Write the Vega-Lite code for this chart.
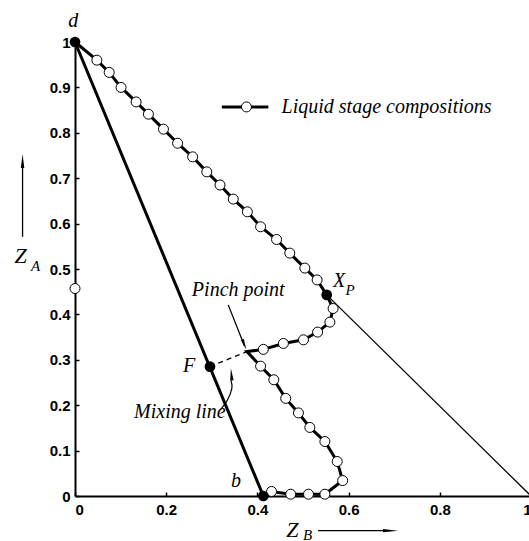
{
  "$schema": "https://vega.github.io/schema/vega-lite/v6.json",
  "width": 456,
  "height": 454,
  "autosize": "none",
  "padding": {"left": 75, "top": 42, "right": 0, "bottom": 45},
  "background": "white",
  "config": {
    "view": {"stroke": null},
    "axis": {
      "grid": false,
      "domainColor": "black",
      "domainWidth": 2,
      "tickColor": "black",
      "tickWidth": 1.5,
      "tickSize": -4,
      "labelFont": "Liberation Sans",
      "labelFontWeight": "bold",
      "labelFontSize": 15,
      "labelColor": "black",
      "title": null
    }
  },
  "datasets": {
    "path": [
      {"seq": 1, "zb": 0.0, "za": 1.0},
      {"seq": 2, "zb": 0.048, "za": 0.960},
      {"seq": 3, "zb": 0.075, "za": 0.933},
      {"seq": 4, "zb": 0.101, "za": 0.900},
      {"seq": 5, "zb": 0.134, "za": 0.868},
      {"seq": 6, "zb": 0.161, "za": 0.841},
      {"seq": 7, "zb": 0.194, "za": 0.808},
      {"seq": 8, "zb": 0.225, "za": 0.777},
      {"seq": 9, "zb": 0.258, "za": 0.747},
      {"seq": 10, "zb": 0.289, "za": 0.714},
      {"seq": 11, "zb": 0.318, "za": 0.685},
      {"seq": 12, "zb": 0.347, "za": 0.654},
      {"seq": 13, "zb": 0.378, "za": 0.626},
      {"seq": 14, "zb": 0.407, "za": 0.593},
      {"seq": 15, "zb": 0.442, "za": 0.565},
      {"seq": 16, "zb": 0.471, "za": 0.535},
      {"seq": 17, "zb": 0.504, "za": 0.502},
      {"seq": 18, "zb": 0.531, "za": 0.476},
      {"seq": 19, "zb": 0.552, "za": 0.443},
      {"seq": 20, "zb": 0.566, "za": 0.413},
      {"seq": 21, "zb": 0.559, "za": 0.383},
      {"seq": 22, "zb": 0.532, "za": 0.361},
      {"seq": 23, "zb": 0.501, "za": 0.344},
      {"seq": 24, "zb": 0.457, "za": 0.336},
      {"seq": 25, "zb": 0.413, "za": 0.323},
      {"seq": 26, "zb": 0.377, "za": 0.318},
      {"seq": 27, "zb": 0.407, "za": 0.286},
      {"seq": 28, "zb": 0.436, "za": 0.256},
      {"seq": 29, "zb": 0.462, "za": 0.215},
      {"seq": 30, "zb": 0.490, "za": 0.183},
      {"seq": 31, "zb": 0.515, "za": 0.151},
      {"seq": 32, "zb": 0.548, "za": 0.120},
      {"seq": 33, "zb": 0.575, "za": 0.076},
      {"seq": 34, "zb": 0.587, "za": 0.034},
      {"seq": 35, "zb": 0.548, "za": 0.004},
      {"seq": 36, "zb": 0.512, "za": 0.004},
      {"seq": 37, "zb": 0.473, "za": 0.004},
      {"seq": 38, "zb": 0.431, "za": 0.010},
      {"seq": 39, "zb": 0.413, "za": 0.0}
    ],
    "circles": [
      {"zb": 0.048, "za": 0.960},
      {"zb": 0.075, "za": 0.933},
      {"zb": 0.101, "za": 0.900},
      {"zb": 0.134, "za": 0.868},
      {"zb": 0.161, "za": 0.841},
      {"zb": 0.194, "za": 0.808},
      {"zb": 0.225, "za": 0.777},
      {"zb": 0.258, "za": 0.747},
      {"zb": 0.289, "za": 0.714},
      {"zb": 0.318, "za": 0.685},
      {"zb": 0.347, "za": 0.654},
      {"zb": 0.378, "za": 0.626},
      {"zb": 0.407, "za": 0.593},
      {"zb": 0.442, "za": 0.565},
      {"zb": 0.471, "za": 0.535},
      {"zb": 0.504, "za": 0.502},
      {"zb": 0.531, "za": 0.476},
      {"zb": 0.566, "za": 0.413},
      {"zb": 0.559, "za": 0.383},
      {"zb": 0.532, "za": 0.361},
      {"zb": 0.501, "za": 0.344},
      {"zb": 0.457, "za": 0.336},
      {"zb": 0.413, "za": 0.323},
      {"zb": 0.407, "za": 0.286},
      {"zb": 0.436, "za": 0.256},
      {"zb": 0.462, "za": 0.215},
      {"zb": 0.490, "za": 0.183},
      {"zb": 0.515, "za": 0.151},
      {"zb": 0.548, "za": 0.120},
      {"zb": 0.575, "za": 0.076},
      {"zb": 0.587, "za": 0.034},
      {"zb": 0.548, "za": 0.004},
      {"zb": 0.512, "za": 0.004},
      {"zb": 0.473, "za": 0.004},
      {"zb": 0.431, "za": 0.010},
      {"zb": 0.0, "za": 0.457},
      {"zb": 0.376, "za": 0.857}
    ],
    "filled": [
      {"name": "d", "zb": 0.0, "za": 1.0},
      {"name": "Xp", "zb": 0.552, "za": 0.443},
      {"name": "F", "zb": 0.296, "za": 0.285},
      {"name": "b", "zb": 0.413, "za": 0.0}
    ],
    "mixing": [
      {"zb": 0.0, "za": 1.0, "zb2": 0.413, "za2": 0.0},
      {"zb": 0.322, "za": 0.857, "zb2": 0.424, "za2": 0.857}
    ],
    "thin": [
      {"zb": 0.552, "za": 0.443, "zb2": 1.0, "za2": 0.0},
      {"zb": 0.336, "za": 0.421, "zb2": 0.372, "za2": 0.33},
      {"zb": -0.115, "za": 0.571, "zb2": -0.115, "za2": 0.73},
      {"zb": 0.533, "za": -0.0764, "zb2": 0.69, "za2": -0.0764}
    ],
    "dashed": [
      {"zb": 0.296, "za": 0.285, "zb2": 0.377, "za2": 0.318}
    ],
    "arc": [
      {"k": 1, "zb": 0.318, "za": 0.189},
      {"k": 2, "zb": 0.334, "za": 0.211},
      {"k": 3, "zb": 0.344, "za": 0.237},
      {"k": 4, "zb": 0.342, "za": 0.255}
    ],
    "labels20": [
      {"t": "d", "zb": -0.004, "za": 1.034},
      {"t": "b", "zb": 0.353, "za": 0.0205},
      {"t": "Mixing line", "zb": 0.230, "za": 0.172},
      {"t": "Pinch point", "zb": 0.358, "za": 0.4405},
      {"t": "F", "zb": 0.25, "za": 0.274},
      {"t": "X", "zb": 0.579, "za": 0.461}
    ],
    "legendText": [
      {"t": "Liquid stage compositions", "zb": 0.453, "za": 0.843}
    ],
    "zlabels": [
      {"t": "Z", "zb": -0.119, "za": 0.5126},
      {"t": "Z", "zb": 0.4765, "za": -0.0896}
    ],
    "subs": [
      {"t": "P", "zb": 0.603, "za": 0.443},
      {"t": "A", "zb": -0.0866, "za": 0.496},
      {"t": "B", "zb": 0.51, "za": -0.097}
    ]
  },
  "encoding": {
    "x": {"field": "zb", "type": "quantitative", "scale": {"domain": [0, 1], "nice": false},
      "axis": {"values": [0, 0.2, 0.4, 0.6, 0.8, 1], "format": "~g", "labelPadding": 10}},
    "y": {"field": "za", "type": "quantitative", "scale": {"domain": [0, 1], "nice": false},
      "axis": {"values": [0, 0.1, 0.2, 0.3, 0.4, 0.5, 0.6, 0.7, 0.8, 0.9, 1], "format": "~g", "labelPadding": 9}}
  },
  "layer": [
    {
      "data": {"name": "thin"},
      "mark": {"type": "rule", "color": "black", "strokeWidth": 1.3},
      "encoding": {"x2": {"field": "zb2"}, "y2": {"field": "za2"}}
    },
    {
      "data": {"name": "dashed"},
      "mark": {"type": "rule", "color": "black", "strokeWidth": 1.3, "strokeDash": [5, 4]},
      "encoding": {"x2": {"field": "zb2"}, "y2": {"field": "za2"}}
    },
    {
      "data": {"name": "mixing"},
      "mark": {"type": "rule", "color": "black", "strokeWidth": 3},
      "encoding": {"x2": {"field": "zb2"}, "y2": {"field": "za2"}}
    },
    {
      "data": {"name": "arc"},
      "mark": {"type": "line", "color": "black", "strokeWidth": 1.2, "interpolate": "cardinal"},
      "encoding": {"order": {"field": "k", "type": "quantitative"}}
    },
    {
      "data": {"name": "path"},
      "mark": {"type": "line", "color": "black", "strokeWidth": 3},
      "encoding": {"order": {"field": "seq", "type": "quantitative"}}
    },
    {
      "data": {"name": "circles"},
      "mark": {"type": "point", "shape": "circle", "filled": true, "fill": "white", "stroke": "black", "strokeWidth": 1, "size": 100, "opacity": 1}
    },
    {
      "data": {"name": "filled"},
      "mark": {"type": "point", "shape": "circle", "filled": true, "color": "black", "size": 115, "opacity": 1}
    },
    {
      "data": {"values": [{"zb": 0.3715, "za": 0.333}]},
      "mark": {"type": "point", "shape": "M0,1L-0.28,-1L0.28,-1Z", "filled": true, "color": "black", "size": 130, "angle": -21.5, "opacity": 1}
    },
    {
      "data": {"values": [{"zb": 0.343, "za": 0.268}]},
      "mark": {"type": "point", "shape": "M0,-1L-0.28,1L0.28,1Z", "filled": true, "color": "black", "size": 144, "angle": -5, "opacity": 1}
    },
    {
      "data": {"values": [{"zb": -0.115, "za": 0.738}]},
      "mark": {"type": "point", "shape": "M0,-1L-0.25,1L0.25,1Z", "filled": true, "color": "black", "size": 196, "opacity": 1}
    },
    {
      "data": {"values": [{"zb": 0.692, "za": -0.0764}]},
      "mark": {"type": "point", "shape": "M1,0L-1,-0.22L-1,0.22Z", "filled": true, "color": "black", "size": 225, "opacity": 1}
    },
    {
      "data": {"name": "labels20"},
      "mark": {"type": "text", "font": "Liberation Serif", "fontStyle": "italic", "fontSize": 20, "align": "center", "baseline": "alphabetic", "color": "black"},
      "encoding": {"text": {"field": "t"}}
    },
    {
      "data": {"name": "legendText"},
      "mark": {"type": "text", "font": "Liberation Serif", "fontStyle": "italic", "fontSize": 20, "align": "left", "baseline": "alphabetic", "color": "black"},
      "encoding": {"text": {"field": "t"}}
    },
    {
      "data": {"name": "zlabels"},
      "mark": {"type": "text", "font": "Liberation Serif", "fontStyle": "italic", "fontSize": 22, "align": "center", "baseline": "alphabetic", "color": "black"},
      "encoding": {"text": {"field": "t"}}
    },
    {
      "data": {"name": "subs"},
      "mark": {"type": "text", "font": "Liberation Serif", "fontStyle": "italic", "fontSize": 15, "align": "center", "baseline": "alphabetic", "color": "black"},
      "encoding": {"text": {"field": "t"}}
    }
  ]
}
